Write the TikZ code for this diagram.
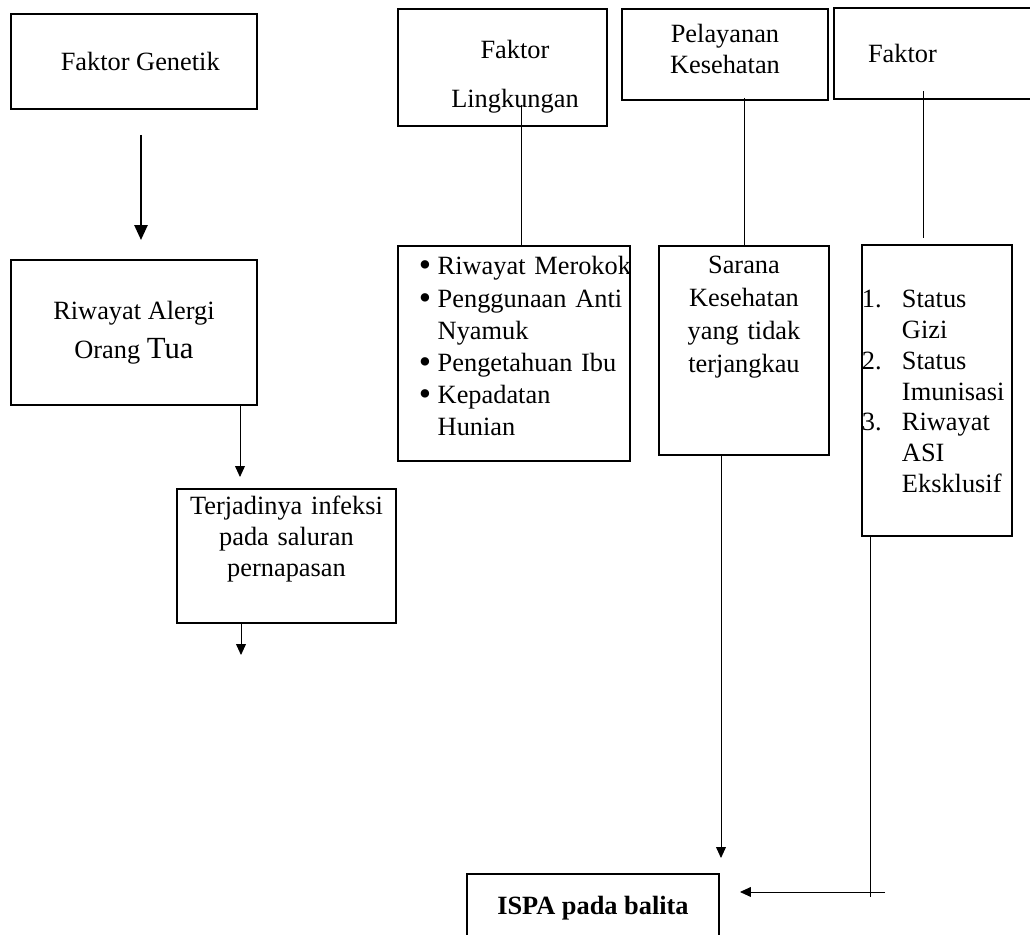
\documentclass[tikz,border=0pt]{standalone}
\usepackage{fontspec}
\setmainfont{Liberation Serif}
\usetikzlibrary{arrows.meta}

\begin{document}
\begin{tikzpicture}[thin,>={Triangle[length=5pt,width=4.5pt]},
    box/.style={draw,line width=0.9pt,inner sep=0pt,anchor=north west,font=\fontsize{12}{14}\selectfont}]

    \useasboundingbox (0,0) rectangle (16.48,14.96);
    \clip (0,0) rectangle (16.48,14.96);

    % --------------------------------------------------------- %
    % ------------- left column (genetik)
    % --------------------------------------------------------- %
    % --- genetik node
    \node[box,minimum width=3.936cm,minimum height=1.52cm] (genetik) at (0.16,14.752) {\hspace{0.2cm}Faktor Genetik};
    % --- alergi node
    \node[box,minimum width=3.936cm,minimum height=2.32cm,align=center] (alergi) at (0.16,10.816) {Riwayat Alergi\\[3.8pt] Orang {\fontsize{14}{16}\selectfont Tua}};
    \draw [line width=0.9pt,-{Triangle[length=6.8pt,width=6pt]},shorten <=0.4cm,shorten >=0.304cm] ([xshift=0.112cm]genetik.south) -- ([xshift=0.112cm]genetik.south |- alergi.north);
    % --- infeksi node
    \node[box,text width=3.3cm,inner xsep=0.102cm,text height=0.416cm,text depth=1.728cm,align=center] (infeksi) at (2.816,7.152) {Terjadinya infeksi\\ pada saluran\\ pernapasan};
    \draw [->,shorten >=0.176cm] ([xshift=1.696cm]alergi.south) -- ([xshift=1.696cm]alergi.south |- infeksi.north);
    \coordinate (infeksiout) at (3.856,4.48);
    \draw [->] (infeksiout |- infeksi.south) -- (infeksiout);

    % --------------------------------------------------------- %
    % ------------ top row (faktor)
    % --------------------------------------------------------- %
    % --- lingkungan node
    \node[box,text width=3cm,inner xsep=0.172cm,text height=0.8cm,text depth=1.072cm,align=center] (lingkungan) at (6.352,14.832) {\hspace{0.4cm}Faktor\\[7.9pt] \hspace{0.4cm}Lingkungan};
    % --- pelayanan node
    \node[box,text width=3cm,inner xsep=0.148cm,text height=0.544cm,text depth=0.912cm,align=center] (pelayanan) at (9.936,14.832) {Pelayanan\\ Kesehatan};
    % --- faktor node
    \node[box,text width=2.304cm,inner xsep=0.544cm,minimum height=1.456cm,align=left] (faktor) at (13.328,14.848) {Faktor};

    % --------------------------------------------------------- %
    % ------------ middle row (lists)
    % --------------------------------------------------------- %
    % --- rokok node
    \node[box,text width=3.04cm,inner xsep=0.336cm,text height=0.464cm,text depth=2.976cm,align=left,font=\fontsize{12}{14.6}\selectfont] (rokok) at (6.352,11.04) {\mbox{\makebox[0.3cm][l]{\raisebox{-0.9pt}{\fontsize{16}{16}\selectfont\textbullet}}Riwayat Merokok}\\ \mbox{\makebox[0.3cm][l]{\raisebox{-0.9pt}{\fontsize{16}{16}\selectfont\textbullet}}Penggunaan Anti}\\ \mbox{\hspace{0.3cm}Nyamuk}\\ \mbox{\makebox[0.3cm][l]{\raisebox{-0.9pt}{\fontsize{16}{16}\selectfont\textbullet}}Pengetahuan Ibu}\\ \mbox{\makebox[0.3cm][l]{\raisebox{-0.9pt}{\fontsize{16}{16}\selectfont\textbullet}}Kepadatan}\\ \mbox{\hspace{0.3cm}Hunian}};
    \draw ([xshift=0.296cm,yshift=0.352cm]lingkungan.south) -- ([xshift=0.296cm]lingkungan.south |- rokok.north);
    % --- sarana node
    \node[box,text width=2.4cm,inner xsep=0.16cm,text height=0.448cm,text depth=2.896cm,align=center,font=\fontsize{12}{15}\selectfont] (sarana) at (10.528,11.04) {Sarana\\ Kesehatan\\ yang tidak\\ terjangkau};
    \draw ([xshift=0.304cm,yshift=0.048cm]pelayanan.south) -- ([xshift=0.304cm]pelayanan.south |- sarana.north);
    % --- status node
    \node[box,text width=2.4cm,inner xsep=0cm,text height=1.008cm,text depth=3.648cm,align=left] (status) at (13.776,11.056) {\mbox{\makebox[0.64cm][l]{1.}Status}\\ \mbox{\hspace{0.64cm}Gizi}\\ \mbox{\makebox[0.64cm][l]{2.}Status}\\ \mbox{\hspace{0.64cm}Imunisasi}\\ \mbox{\makebox[0.64cm][l]{3.}Riwayat}\\ \mbox{\hspace{0.64cm}ASI}\\ \mbox{\hspace{0.64cm}Eksklusif}};
    \draw [shorten >=0.096cm] ([xshift=-0.272cm,yshift=0.144cm]faktor.south) -- ([xshift=-0.272cm]faktor.south |- status.north);

    % --------------------------------------------------------- %
    % ------------ result (ispa)
    % --------------------------------------------------------- %
    \node[box,minimum width=4.032cm,minimum height=1.088cm,font=\bfseries\fontsize{12}{14}\selectfont] (ispa) at (7.456,0.992) {ISPA pada balita};
    \draw [->,shorten >=0.24cm] ([xshift=-0.368cm]sarana.south) -- ([xshift=-0.368cm]sarana.south |- ispa.north);
    \coordinate (statusend) at (13.92,0.608);
    \draw (statusend |- status.south) -- (statusend);
    \coordinate (ispain) at (14.16,0.688);
    \draw [->,shorten >=0.32cm] (ispain) -- (ispain -| ispa.east);

  \end{tikzpicture}
\end{document}
